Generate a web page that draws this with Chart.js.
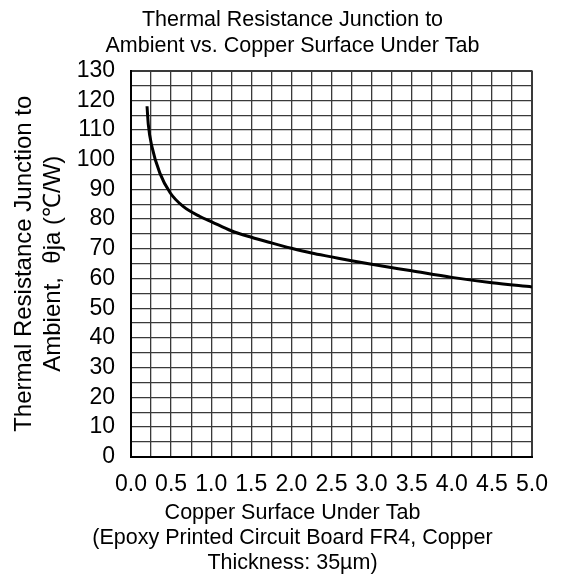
<!DOCTYPE html>
<html>
<head>
<meta charset="utf-8">
<script src="https://cdn.jsdelivr.net/npm/chart.js@4"></script>
<style>
  html, body { margin: 0; padding: 0; background: #fff; }
  #wrap { width: 585px; height: 581px; }
</style>
</head>
<body>
<div id="wrap"><canvas id="thetaChart"></canvas></div>
<script>
// Copper surface under tab vs. thermal resistance junction to ambient
const copperArea = [0.20, 0.216, 0.26, 0.36, 0.49, 0.65, 0.86, 1.00, 1.25, 1.50, 1.75, 2.00, 2.25, 2.50, 2.75, 3.00, 3.50, 4.00, 4.50, 5.00];
const thetaJA    = [118.0, 111.8, 104.5, 95.5, 88.8, 84.3, 80.9, 79.2, 76.1, 73.9, 72.0, 70.2, 68.6, 67.3, 66.0, 64.8, 62.6, 60.4, 58.6, 57.2];

const xTickLabels = ['0.0', '0.5', '1.0', '1.5', '2.0', '2.5', '3.0', '3.5', '4.0', '4.5', '5.0'];
const yTickLabels = ['0', '10', '20', '30', '40', '50', '60', '70', '80', '90', '100', '110', '120', '130'];

const FONT = "'Liberation Sans', Arial, sans-serif";
const GRID = '#3a3a3a';

const points = copperArea.map((x, i) => ({ x: x, y: thetaJA[i] }));

// grid plus frame: edge lines are drawn thicker
function gridWidth(edgeA, edgeB) {
    return function (ctx) {
        if (ctx.tick && (ctx.tick.value === edgeA || ctx.tick.value === edgeB)) return 2;
        return 1.3;
    };
}

new Chart(document.getElementById('thetaChart'), {
    type: 'line',
    data: {
        datasets: [{
            data: points,
            borderColor: '#000',
            borderWidth: 3,
            pointRadius: 0,
            fill: false,
            cubicInterpolationMode: 'monotone'
        }]
    },
    options: {
        responsive: true,
        maintainAspectRatio: false,
        animation: false,
        layout: { padding: 0 },
        plugins: {
            legend: { display: false },
            tooltip: { enabled: false },
            title: {
                display: true,
                text: ['Thermal Resistance Junction to', 'Ambient vs. Copper Surface Under Tab'],
                color: '#000',
                font: { family: FONT, size: 21.5, weight: 'normal', lineHeight: 1.2 },
                padding: { top: 7, bottom: 12 }
            },
            subtitle: {
                display: true,
                position: 'bottom',
                text: ['Copper Surface Under Tab', '(Epoxy Printed Circuit Board FR4, Copper', 'Thickness: 35\u00b5m)'],
                color: '#000',
                font: { family: FONT, size: 21.5, weight: 'normal', lineHeight: 1.15 },
                padding: { top: 0, bottom: 6 }
            }
        },
        scales: {
            x: {
                type: 'linear',
                min: 0,
                max: 5,
                afterFit: (s) => { s.height = 44; },
                grid: { color: GRID, lineWidth: gridWidth(0, 5), drawTicks: false },
                border: { display: true, color: '#000', width: 2 },
                ticks: {
                    stepSize: 0.25,
                    maxTicksLimit: 30,
                    autoSkip: false,
                    maxRotation: 0,
                    padding: 14,
                    color: '#000',
                    font: { family: FONT, size: 23 },
                    callback: (v, i) => (i % 2 === 0 ? xTickLabels[i / 2] : '')
                }
            },
            y: {
                type: 'linear',
                min: 0,
                max: 130,
                afterFit: (s) => { s.width = 131; },
                grid: { color: GRID, lineWidth: gridWidth(0, 130), drawTicks: false },
                border: { display: true, color: '#000', width: 2 },
                ticks: {
                    stepSize: 5,
                    maxTicksLimit: 40,
                    autoSkip: false,
                    padding: 16,
                    color: '#000',
                    font: { family: FONT, size: 23 },
                    callback: (v, i) => (i % 2 === 0 ? yTickLabels[i / 2] : '')
                },
                title: {
                    display: true,
                    text: ['Thermal Resistance Junction to', 'Ambient,  \u03b8ja (\u2103/W)'],
                    color: '#000',
                    font: { family: FONT, size: 24, lineHeight: 1.2 },
                    padding: { top: 10, bottom: 0 }
                }
            },
            // spacer on the right so titles stay centred on the page
            yRight: {
                type: 'linear',
                position: 'right',
                afterFit: (s) => { s.width = 53; },
                grid: { display: false },
                border: { display: false },
                ticks: { display: false }
            }
        }
    }
});
</script>
</body>
</html>
